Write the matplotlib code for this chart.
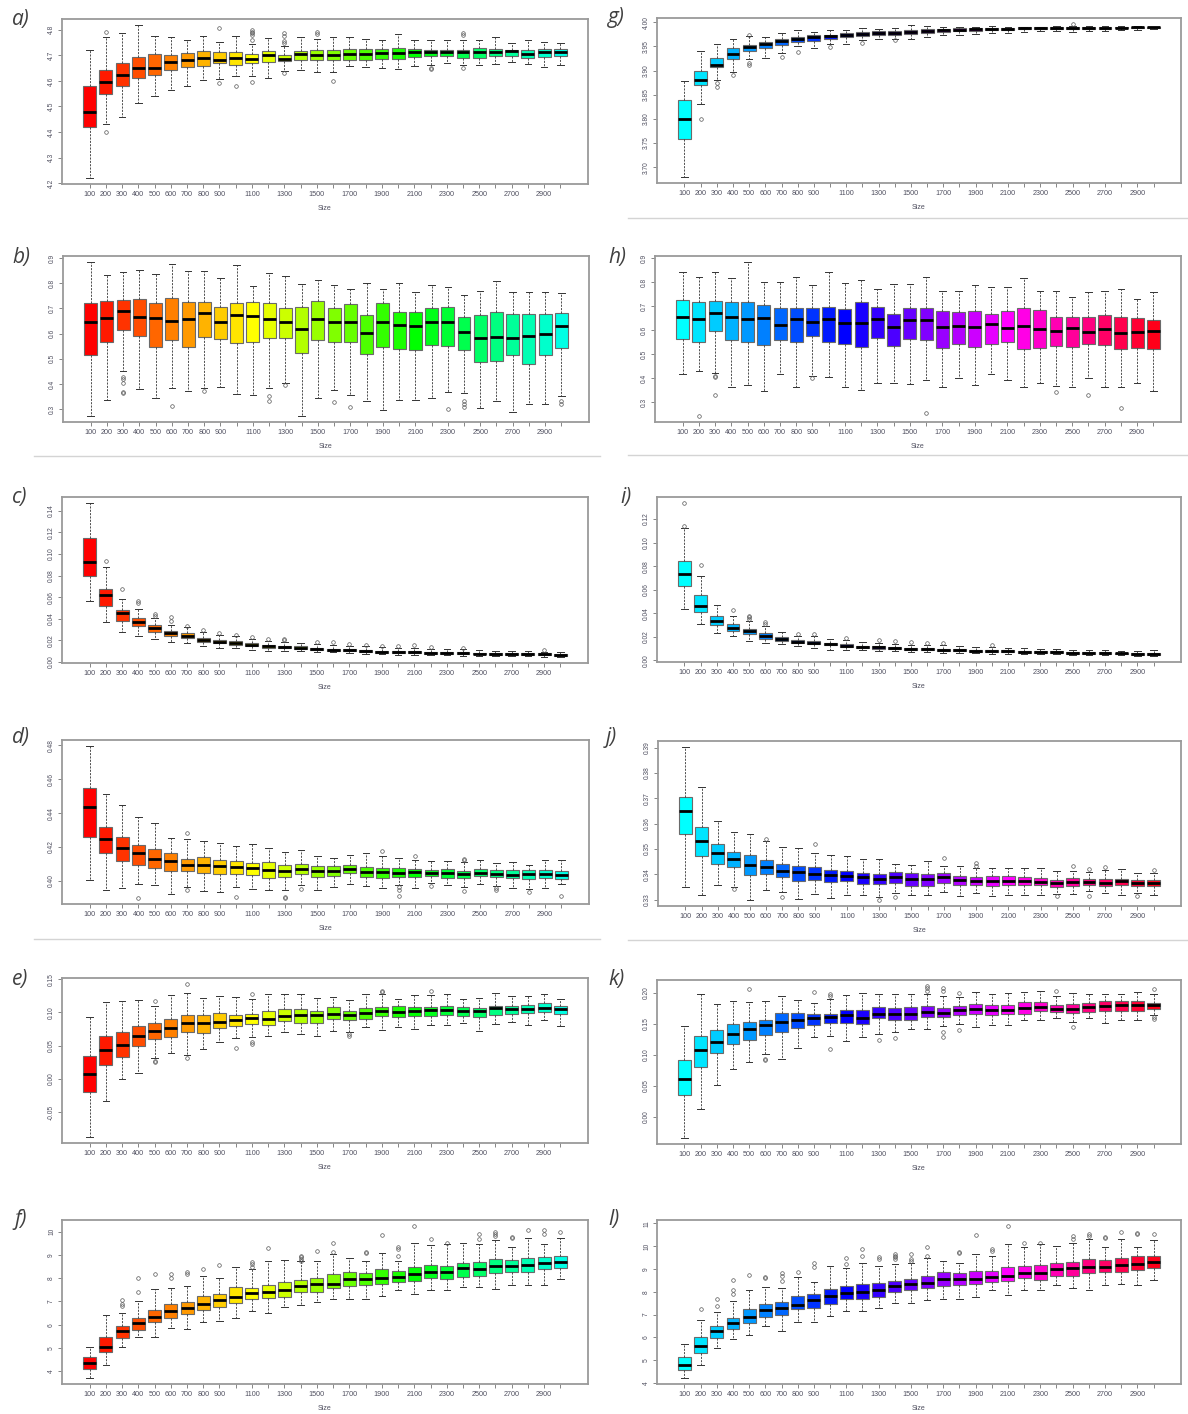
import colorsys
import matplotlib
matplotlib.use("Agg")
import matplotlib.pyplot as plt
from matplotlib.lines import Line2D

plt.rcParams['font.family'] = ['Liberation Sans', 'DejaVu Sans']

# x axis: sample size, R skips labels that would overlap
sizes = [100, 200, 300, 400, 500, 600, 700, 800, 900, 1000,
         1100, 1200, 1300, 1400, 1500, 1600, 1700, 1800, 1900, 2000,
         2100, 2200, 2300, 2400, 2500, 2600, 2700, 2800, 2900, 3000]
size_labels = ['100', '200', '300', '400', '500', '600', '700', '800', '900', '',
               '1100', '', '1300', '', '1500', '', '1700', '', '1900', '',
               '2100', '', '2300', '', '2500', '', '2700', '', '2900', '']

# ---- a)
a_hi = [4.722, 4.770, 4.787, 4.818, 4.774, 4.770, 4.761, 4.774, 4.751, 4.777, 4.745, 4.768, 4.735, 4.771, 4.764,
        4.770, 4.770, 4.764, 4.759, 4.782, 4.760, 4.759, 4.759, 4.759, 4.759, 4.770, 4.748, 4.761, 4.753, 4.748]
a_q3 = [4.582, 4.641, 4.670, 4.695, 4.707, 4.703, 4.708, 4.716, 4.712, 4.713, 4.705, 4.718, 4.703, 4.718, 4.722,
        4.722, 4.725, 4.726, 4.726, 4.729, 4.725, 4.720, 4.722, 4.720, 4.729, 4.726, 4.720, 4.722, 4.726, 4.726]
a_med = [4.479, 4.597, 4.625, 4.651, 4.652, 4.673, 4.683, 4.690, 4.682, 4.689, 4.687, 4.700, 4.687, 4.705, 4.703,
         4.702, 4.707, 4.707, 4.708, 4.708, 4.713, 4.711, 4.712, 4.711, 4.712, 4.712, 4.715, 4.704, 4.713, 4.713]
a_q1 = [4.420, 4.547, 4.582, 4.612, 4.625, 4.642, 4.655, 4.658, 4.668, 4.663, 4.670, 4.674, 4.677, 4.681, 4.681,
        4.681, 4.683, 4.682, 4.686, 4.686, 4.694, 4.696, 4.696, 4.691, 4.690, 4.696, 4.696, 4.689, 4.694, 4.696]
a_lo = [4.221, 4.431, 4.460, 4.514, 4.541, 4.563, 4.582, 4.602, 4.606, 4.619, 4.619, 4.612, 4.638, 4.642, 4.636,
        4.634, 4.658, 4.654, 4.651, 4.648, 4.659, 4.661, 4.668, 4.661, 4.661, 4.667, 4.673, 4.667, 4.654, 4.661]
a_out = {2: [4.790, 4.400], 9: [4.806, 4.593], 10: [4.582], 11: [4.800, 4.793, 4.787, 4.780, 4.760, 4.597],
         13: [4.787, 4.774, 4.755, 4.748, 4.632], 15: [4.791, 4.782], 16: [4.600], 22: [4.650, 4.646],
         24: [4.787, 4.780, 4.650]}
a_ticks = [4.2, 4.3, 4.4, 4.5, 4.6, 4.7, 4.8]
a_tick_labels = ['4.2', '4.3', '4.4', '4.5', '4.6', '4.7', '4.8']

# ---- b)
b_hi = [0.884, 0.832, 0.844, 0.851, 0.837, 0.876, 0.847, 0.847, 0.820, 0.871, 0.791, 0.840, 0.828, 0.799, 0.812,
        0.792, 0.779, 0.800, 0.779, 0.803, 0.764, 0.792, 0.784, 0.753, 0.768, 0.809, 0.764, 0.764, 0.764, 0.761]
b_q3 = [0.723, 0.729, 0.733, 0.736, 0.720, 0.741, 0.727, 0.724, 0.707, 0.723, 0.724, 0.723, 0.701, 0.705, 0.729,
        0.703, 0.716, 0.673, 0.723, 0.687, 0.684, 0.700, 0.707, 0.667, 0.672, 0.687, 0.679, 0.676, 0.676, 0.680]
b_med = [0.645, 0.663, 0.688, 0.665, 0.660, 0.649, 0.659, 0.683, 0.645, 0.673, 0.668, 0.657, 0.645, 0.617, 0.657,
         0.647, 0.645, 0.603, 0.645, 0.636, 0.629, 0.645, 0.648, 0.607, 0.581, 0.587, 0.581, 0.591, 0.599, 0.631]
b_q1 = [0.516, 0.567, 0.613, 0.592, 0.547, 0.576, 0.547, 0.587, 0.577, 0.564, 0.567, 0.582, 0.583, 0.521, 0.576,
        0.567, 0.567, 0.520, 0.547, 0.540, 0.533, 0.553, 0.552, 0.536, 0.488, 0.491, 0.516, 0.481, 0.515, 0.544]
b_lo = [0.273, 0.337, 0.453, 0.380, 0.345, 0.384, 0.372, 0.383, 0.387, 0.360, 0.356, 0.383, 0.403, 0.273, 0.344,
        0.376, 0.357, 0.333, 0.296, 0.335, 0.335, 0.345, 0.369, 0.365, 0.304, 0.331, 0.288, 0.321, 0.321, 0.353]
b_out = {3: [0.429, 0.419, 0.404, 0.369, 0.363], 6: [0.313], 8: [0.372], 12: [0.353, 0.332], 13: [0.397],
         16: [0.329], 17: [0.307], 23: [0.300], 24: [0.333, 0.320, 0.309], 30: [0.333, 0.320]}
b_ticks = [0.3, 0.4, 0.5, 0.6, 0.7, 0.8, 0.9]
b_tick_labels = ['0.3', '0.4', '0.5', '0.6', '0.7', '0.8', '0.9']

# ---- c)
c_hi = [0.147, 0.0878, 0.0583, 0.0490, 0.0406, 0.0344, 0.0319, 0.0273, 0.0251, 0.0236, 0.0211, 0.0195, 0.0186, 0.0171, 0.0164,
        0.0155, 0.0149, 0.0143, 0.0136, 0.0130, 0.0130, 0.0124, 0.0118, 0.0118, 0.0109, 0.0105, 0.0105, 0.0102, 0.0096, 0.0090]
c_q3 = [0.115, 0.0676, 0.0484, 0.0406, 0.0344, 0.0288, 0.0264, 0.0220, 0.0205, 0.0192, 0.0171, 0.0158, 0.0152, 0.0143, 0.0133,
        0.0124, 0.0121, 0.0112, 0.0105, 0.0102, 0.0099, 0.0096, 0.0096, 0.0093, 0.0087, 0.0087, 0.0084, 0.0084, 0.0081, 0.0078]
c_med = [0.0924, 0.0623, 0.0450, 0.0366, 0.0316, 0.0264, 0.0242, 0.0205, 0.0186, 0.0174, 0.0158, 0.0143, 0.0140, 0.0130, 0.0121,
         0.0115, 0.0109, 0.0102, 0.0096, 0.0093, 0.0090, 0.0087, 0.0087, 0.0084, 0.0078, 0.0078, 0.0074, 0.0074, 0.0071, 0.0068]
c_q1 = [0.0791, 0.0521, 0.0381, 0.0329, 0.0279, 0.0236, 0.0220, 0.0186, 0.0171, 0.0158, 0.0143, 0.0130, 0.0127, 0.0118, 0.0112,
        0.0105, 0.0099, 0.0093, 0.0087, 0.0084, 0.0081, 0.0078, 0.0078, 0.0074, 0.0071, 0.0068, 0.0065, 0.0065, 0.0062, 0.0059]
c_lo = [0.0567, 0.0372, 0.0279, 0.0236, 0.0208, 0.0189, 0.0171, 0.0149, 0.0133, 0.0127, 0.0112, 0.0102, 0.0102, 0.0102, 0.0090,
        0.0090, 0.0081, 0.0078, 0.0071, 0.0068, 0.0065, 0.0062, 0.0062, 0.0059, 0.0059, 0.0056, 0.0056, 0.0053, 0.0050, 0.0047]
c_out = {2: [0.0930], 3: [0.0676], 4: [0.0561, 0.0543], 5: [0.0443, 0.0428], 6: [0.0412, 0.0380], 7: [0.0329],
         8: [0.0295], 9: [0.0264], 10: [0.0248], 11: [0.0233], 12: [0.0211], 13: [0.0211, 0.0202], 15: [0.0189],
         16: [0.0180], 17: [0.0164], 18: [0.0158], 19: [0.0152], 20: [0.0152], 21: [0.0161], 22: [0.0140],
         24: [0.0133], 29: [0.0112]}
c_ticks = [0.0, 0.02, 0.04, 0.06, 0.08, 0.10, 0.12, 0.14]
c_tick_labels = ['0.00', '0.02', '0.04', '0.06', '0.08', '0.10', '0.12', '0.14']

# ---- d)
d_hi = [0.4796, 0.4512, 0.4445, 0.4375, 0.4341, 0.4251, 0.4245, 0.4237, 0.4222, 0.4204, 0.4214, 0.4192, 0.4171, 0.4180, 0.4147,
        0.4137, 0.4153, 0.4163, 0.4143, 0.4137, 0.4124, 0.4118, 0.4114, 0.4110, 0.4122, 0.4104, 0.4108, 0.4092, 0.4125, 0.4125]
d_q3 = [0.4549, 0.4316, 0.4261, 0.4210, 0.4186, 0.4165, 0.4131, 0.4139, 0.4120, 0.4114, 0.4104, 0.4108, 0.4092, 0.4096, 0.4084,
        0.4086, 0.4092, 0.4080, 0.4073, 0.4073, 0.4069, 0.4065, 0.4069, 0.4057, 0.4069, 0.4065, 0.4061, 0.4065, 0.4065, 0.4059]
d_med = [0.4433, 0.4245, 0.4192, 0.4161, 0.4127, 0.4118, 0.4094, 0.4094, 0.4084, 0.4080, 0.4073, 0.4063, 0.4055, 0.4067, 0.4055,
         0.4055, 0.4071, 0.4051, 0.4049, 0.4045, 0.4049, 0.4043, 0.4045, 0.4039, 0.4043, 0.4041, 0.4033, 0.4041, 0.4039, 0.4035]
d_q1 = [0.4257, 0.4163, 0.4118, 0.4094, 0.4073, 0.4055, 0.4055, 0.4047, 0.4041, 0.4039, 0.4035, 0.4016, 0.4022, 0.4037, 0.4024,
        0.4029, 0.4045, 0.4024, 0.4016, 0.4024, 0.4024, 0.4027, 0.4018, 0.4016, 0.4025, 0.4022, 0.4016, 0.4010, 0.4014, 0.4010]
d_lo = [0.4004, 0.3943, 0.3955, 0.3978, 0.3973, 0.3924, 0.3961, 0.3939, 0.3931, 0.3963, 0.3951, 0.3947, 0.3947, 0.3973, 0.3947,
        0.3965, 0.3978, 0.3971, 0.3957, 0.3973, 0.3957, 0.3986, 0.3973, 0.3961, 0.3978, 0.3971, 0.3957, 0.3951, 0.3957, 0.3982]
d_out = {4: [0.3898], 7: [0.4284, 0.3947], 10: [0.3902], 13: [0.3904, 0.3898], 14: [0.3953], 19: [0.4176],
         20: [0.3961, 0.3947, 0.3908], 21: [0.4143], 22: [0.3967], 24: [0.4129, 0.4124, 0.3937],
         26: [0.3957, 0.3947], 28: [0.3933], 30: [0.3908]}
d_ticks = [0.40, 0.42, 0.44, 0.46, 0.48]
d_tick_labels = ['0.40', '0.42', '0.44', '0.46', '0.48']

# ---- e)
e_hi = [0.0925, 0.116, 0.1175, 0.119, 0.109, 0.1265, 0.129, 0.122, 0.125, 0.1225, 0.1205, 0.1275, 0.1275, 0.127, 0.121,
        0.1225, 0.119, 0.128, 0.1275, 0.1205, 0.1265, 0.1265, 0.128, 0.1205, 0.1215, 0.1285, 0.125, 0.125, 0.1275, 0.1205]
e_q3 = [0.035, 0.064, 0.071, 0.080, 0.0835, 0.090, 0.096, 0.096, 0.0985, 0.0965, 0.0975, 0.1015, 0.105, 0.1045, 0.1025,
        0.1075, 0.1015, 0.106, 0.1085, 0.109, 0.1075, 0.1085, 0.110, 0.1075, 0.1065, 0.110, 0.110, 0.1115, 0.1135, 0.110]
e_med = [0.0065, 0.043, 0.0505, 0.064, 0.0725, 0.076, 0.084, 0.0835, 0.086, 0.0885, 0.091, 0.090, 0.094, 0.0965, 0.096,
         0.098, 0.096, 0.0985, 0.1015, 0.100, 0.1015, 0.103, 0.104, 0.1025, 0.1025, 0.106, 0.105, 0.105, 0.106, 0.105]
e_q1 = [-0.020, 0.021, 0.0325, 0.050, 0.0595, 0.0625, 0.071, 0.069, 0.076, 0.080, 0.0825, 0.081, 0.0875, 0.0835, 0.084,
        0.090, 0.089, 0.090, 0.094, 0.0925, 0.094, 0.095, 0.096, 0.094, 0.0925, 0.0965, 0.0975, 0.099, 0.100, 0.0975]
e_lo = [-0.0875, -0.034, 0.0, 0.009, 0.031, 0.0385, 0.0365, 0.045, 0.056, 0.061, 0.0625, 0.064, 0.070, 0.067, 0.065,
        0.0715, 0.070, 0.0785, 0.074, 0.0785, 0.0755, 0.081, 0.081, 0.0835, 0.0725, 0.0825, 0.085, 0.081, 0.0885, 0.080]
e_out = {5: [0.1175, 0.0275, 0.025], 7: [0.1425, 0.0315], 10: [0.046], 11: [0.1275, 0.055, 0.0525],
         17: [0.0675, 0.064], 19: [0.1315, 0.130], 22: [0.1325]}
e_ticks = [-0.05, 0.0, 0.05, 0.10, 0.15]
e_tick_labels = ['-0.05', '0.00', '0.05', '0.10', '0.15']

# ---- f)
f_hi = [5.064, 6.440, 6.511, 7.021, 7.518, 7.574, 7.645, 8.113, 8.014, 8.468, 8.397, 8.723, 8.794, 8.723, 8.752,
        9.035, 8.851, 8.752, 9.078, 8.752, 9.504, 9.433, 9.461, 9.504, 9.461, 9.645, 9.362, 9.716, 9.461, 9.716]
f_q3 = [4.596, 5.489, 5.943, 6.298, 6.652, 6.908, 6.979, 7.220, 7.305, 7.617, 7.589, 7.730, 7.830, 7.929, 8.000,
        8.184, 8.284, 8.213, 8.383, 8.298, 8.496, 8.582, 8.539, 8.652, 8.681, 8.823, 8.794, 8.865, 8.922, 8.965]
f_med = [4.340, 5.064, 5.745, 6.057, 6.326, 6.596, 6.738, 6.908, 7.050, 7.191, 7.376, 7.404, 7.504, 7.645, 7.759,
         7.759, 7.972, 7.972, 8.014, 8.071, 8.184, 8.284, 8.255, 8.440, 8.397, 8.511, 8.511, 8.582, 8.638, 8.709]
f_q1 = [4.099, 4.823, 5.418, 5.773, 6.099, 6.312, 6.482, 6.652, 6.766, 6.936, 7.121, 7.149, 7.191, 7.404, 7.404,
        7.589, 7.674, 7.716, 7.759, 7.858, 7.872, 8.014, 7.972, 8.071, 8.099, 8.227, 8.284, 8.284, 8.397, 8.440]
f_lo = [3.716, 4.255, 5.035, 5.475, 5.489, 5.858, 5.801, 6.128, 6.142, 6.312, 6.596, 6.525, 6.766, 6.865, 6.979,
        7.106, 7.106, 7.106, 7.234, 7.475, 7.333, 7.475, 7.475, 7.617, 7.617, 7.518, 7.716, 7.716, 7.716, 7.972]
f_out = {3: [7.050, 6.908, 6.794], 4: [8.000, 7.390], 5: [8.170], 6: [8.184, 8.014], 7: [8.255, 8.184],
         8: [8.397], 9: [8.567], 11: [8.681, 8.610, 8.468], 12: [9.319], 14: [8.965, 8.894, 8.823, 8.752],
         15: [9.149], 16: [9.504, 9.106], 18: [9.106, 9.064], 19: [9.858], 20: [9.348, 9.248, 8.965],
         21: [10.241], 22: [9.674], 23: [9.532], 25: [9.915, 9.702], 26: [10.000, 9.915, 9.816],
         27: [9.787, 9.745], 28: [10.071], 29: [10.071, 9.915], 30: [9.986]}
f_ticks = [4, 5, 6, 7, 8, 9, 10]
f_tick_labels = ['4', '5', '6', '7', '8', '9', '10']

# ---- g)
g_hi = [3.879, 3.940, 3.954, 3.966, 3.972, 3.970, 3.978, 3.983, 3.980, 3.983, 3.983, 3.987, 3.986, 3.988, 3.994,
        3.992, 3.990, 3.990, 3.990, 3.993, 3.990, 3.990, 3.990, 3.992, 3.992, 3.992, 3.992, 3.992, 3.992, 3.991]
g_q3 = [3.840, 3.900, 3.926, 3.946, 3.952, 3.959, 3.966, 3.970, 3.973, 3.974, 3.978, 3.980, 3.981, 3.981, 3.983,
        3.985, 3.986, 3.987, 3.988, 3.988, 3.988, 3.989, 3.989, 3.989, 3.989, 3.990, 3.990, 3.990, 3.990, 3.990]
g_med = [3.800, 3.880, 3.912, 3.935, 3.948, 3.955, 3.961, 3.966, 3.969, 3.971, 3.974, 3.976, 3.978, 3.978, 3.980,
         3.981, 3.983, 3.984, 3.985, 3.986, 3.986, 3.987, 3.987, 3.988, 3.987, 3.988, 3.988, 3.988, 3.989, 3.989]
g_q1 = [3.759, 3.870, 3.907, 3.924, 3.940, 3.946, 3.952, 3.959, 3.962, 3.966, 3.969, 3.971, 3.974, 3.974, 3.976,
        3.978, 3.979, 3.981, 3.981, 3.983, 3.983, 3.985, 3.986, 3.986, 3.985, 3.986, 3.986, 3.987, 3.987, 3.988]
g_lo = [3.680, 3.830, 3.880, 3.897, 3.924, 3.926, 3.937, 3.950, 3.946, 3.955, 3.955, 3.963, 3.966, 3.966, 3.966,
        3.969, 3.974, 3.974, 3.975, 3.977, 3.978, 3.980, 3.981, 3.981, 3.979, 3.981, 3.981, 3.983, 3.984, 3.986]
g_out = {2: [3.800], 3: [3.874, 3.866], 4: [3.890], 5: [3.974, 3.916, 3.912], 7: [3.928], 8: [3.938],
         10: [3.948], 12: [3.957], 14: [3.963], 25: [3.996]}
g_ticks = [3.70, 3.75, 3.80, 3.85, 3.90, 3.95, 4.00]
g_tick_labels = ['3.70', '3.75', '3.80', '3.85', '3.90', '3.95', '4.00']

# ---- h)
h_hi = [0.844, 0.820, 0.840, 0.816, 0.883, 0.802, 0.802, 0.823, 0.786, 0.844, 0.797, 0.809, 0.772, 0.791, 0.791,
        0.820, 0.761, 0.761, 0.786, 0.781, 0.781, 0.816, 0.761, 0.761, 0.737, 0.759, 0.763, 0.770, 0.728, 0.759]
h_q3 = [0.726, 0.719, 0.721, 0.717, 0.717, 0.705, 0.691, 0.691, 0.691, 0.698, 0.688, 0.717, 0.698, 0.667, 0.694,
        0.691, 0.678, 0.674, 0.680, 0.668, 0.680, 0.692, 0.682, 0.656, 0.657, 0.657, 0.663, 0.657, 0.649, 0.641]
h_med = [0.653, 0.646, 0.670, 0.653, 0.646, 0.652, 0.620, 0.646, 0.636, 0.646, 0.628, 0.632, 0.645, 0.614, 0.641,
         0.641, 0.614, 0.618, 0.614, 0.625, 0.611, 0.618, 0.607, 0.597, 0.610, 0.593, 0.607, 0.589, 0.593, 0.597]
h_q1 = [0.562, 0.551, 0.597, 0.561, 0.551, 0.540, 0.558, 0.549, 0.576, 0.549, 0.544, 0.529, 0.567, 0.536, 0.562,
        0.561, 0.526, 0.544, 0.532, 0.544, 0.551, 0.521, 0.525, 0.533, 0.530, 0.544, 0.540, 0.521, 0.528, 0.521]
h_lo = [0.419, 0.430, 0.423, 0.366, 0.374, 0.349, 0.416, 0.366, 0.409, 0.405, 0.366, 0.352, 0.381, 0.381, 0.377,
        0.394, 0.366, 0.401, 0.373, 0.419, 0.394, 0.363, 0.381, 0.370, 0.362, 0.402, 0.366, 0.366, 0.381, 0.349]
h_out = {2: [0.244], 3: [0.409, 0.405, 0.332], 9: [0.402], 16: [0.254], 24: [0.345], 26: [0.331], 28: [0.275]}
h_ticks = [0.3, 0.4, 0.5, 0.6, 0.7, 0.8, 0.9]
h_tick_labels = ['0.3', '0.4', '0.5', '0.6', '0.7', '0.8', '0.9']

# ---- i)
i_hi = [0.1125, 0.0713, 0.0473, 0.0379, 0.0331, 0.0289, 0.0243, 0.0209, 0.0204, 0.0181, 0.0175, 0.0153, 0.0147, 0.0139, 0.0133,
        0.0127, 0.0127, 0.0119, 0.0113, 0.0113, 0.0105, 0.0105, 0.0099, 0.0099, 0.0088, 0.0091, 0.0085, 0.0082, 0.0079, 0.0085]
i_q3 = [0.0841, 0.0558, 0.0374, 0.0309, 0.0266, 0.0229, 0.0198, 0.0173, 0.0164, 0.0150, 0.0136, 0.0125, 0.0119, 0.0113, 0.0105,
        0.0102, 0.0099, 0.0093, 0.0091, 0.0085, 0.0085, 0.0079, 0.0076, 0.0076, 0.0071, 0.0068, 0.0068, 0.0065, 0.0062, 0.0062]
i_med = [0.0733, 0.0461, 0.0337, 0.0275, 0.0246, 0.0207, 0.0184, 0.0159, 0.0147, 0.0136, 0.0125, 0.0113, 0.0110, 0.0105, 0.0096,
         0.0093, 0.0091, 0.0085, 0.0082, 0.0076, 0.0076, 0.0074, 0.0071, 0.0068, 0.0065, 0.0062, 0.0059, 0.0059, 0.0057, 0.0054]
i_q1 = [0.0634, 0.0408, 0.0300, 0.0249, 0.0224, 0.0184, 0.0167, 0.0147, 0.0136, 0.0127, 0.0113, 0.0105, 0.0099, 0.0093, 0.0088,
        0.0085, 0.0079, 0.0076, 0.0074, 0.0068, 0.0068, 0.0065, 0.0062, 0.0059, 0.0057, 0.0054, 0.0054, 0.0051, 0.0048, 0.0045]
i_lo = [0.0436, 0.0311, 0.0232, 0.0204, 0.0161, 0.0147, 0.0139, 0.0125, 0.0105, 0.0091, 0.0088, 0.0085, 0.0079, 0.0076, 0.0071,
        0.0068, 0.0065, 0.0062, 0.0059, 0.0057, 0.0057, 0.0054, 0.0051, 0.0051, 0.0045, 0.0045, 0.0042, 0.0042, 0.0040, 0.0037]
i_out = {1: [0.1336, 0.1143], 2: [0.0812], 4: [0.0425], 5: [0.0379, 0.0365, 0.0351], 6: [0.0323, 0.0309],
         8: [0.0221], 9: [0.0226], 11: [0.0187], 13: [0.0175], 14: [0.0164], 15: [0.0153], 16: [0.0150],
         17: [0.0148], 20: [0.0130]}
i_ticks = [0.0, 0.02, 0.04, 0.06, 0.08, 0.10, 0.12]
i_tick_labels = ['0.00', '0.02', '0.04', '0.06', '0.08', '0.10', '0.12']

# ---- j)
j_hi = [0.3902, 0.3745, 0.3611, 0.3566, 0.3559, 0.3530, 0.3509, 0.3505, 0.3485, 0.3477, 0.3472, 0.3460, 0.3460, 0.3440, 0.3438,
        0.3452, 0.3433, 0.3433, 0.3426, 0.3423, 0.3423, 0.3423, 0.3423, 0.3412, 0.3412, 0.3408, 0.3417, 0.3421, 0.3405, 0.3405]
j_q3 = [0.3706, 0.3587, 0.3520, 0.3489, 0.3477, 0.3455, 0.3440, 0.3433, 0.3427, 0.3418, 0.3414, 0.3404, 0.3401, 0.3408, 0.3404,
        0.3400, 0.3404, 0.3392, 0.3388, 0.3392, 0.3392, 0.3391, 0.3385, 0.3379, 0.3385, 0.3381, 0.3381, 0.3381, 0.3377, 0.3379]
j_med = [0.3649, 0.3530, 0.3484, 0.3460, 0.3438, 0.3429, 0.3413, 0.3408, 0.3402, 0.3397, 0.3394, 0.3389, 0.3381, 0.3389, 0.3381,
         0.3381, 0.3388, 0.3377, 0.3373, 0.3373, 0.3374, 0.3375, 0.3371, 0.3366, 0.3370, 0.3370, 0.3367, 0.3372, 0.3367, 0.3367]
j_q1 = [0.3560, 0.3472, 0.3442, 0.3430, 0.3397, 0.3400, 0.3389, 0.3373, 0.3377, 0.3371, 0.3373, 0.3363, 0.3360, 0.3367, 0.3355,
        0.3354, 0.3364, 0.3359, 0.3359, 0.3355, 0.3356, 0.3359, 0.3356, 0.3350, 0.3355, 0.3358, 0.3354, 0.3356, 0.3355, 0.3354]
j_lo = [0.3349, 0.3318, 0.3356, 0.3349, 0.3299, 0.3337, 0.3331, 0.3304, 0.3321, 0.3305, 0.3317, 0.3317, 0.3309, 0.3325, 0.3318,
        0.3318, 0.3329, 0.3313, 0.3325, 0.3316, 0.3318, 0.3318, 0.3318, 0.3322, 0.3322, 0.3333, 0.3325, 0.3318, 0.3325, 0.3318]
j_out = {4: [0.3342], 6: [0.3539], 7: [0.3312], 9: [0.3519], 13: [0.3300], 14: [0.3309], 17: [0.3463],
         19: [0.3444, 0.3431], 24: [0.3313], 25: [0.3431], 26: [0.3421, 0.3313], 27: [0.3427], 29: [0.3313],
         30: [0.3417]}
j_ticks = [0.33, 0.34, 0.35, 0.36, 0.37, 0.38, 0.39]
j_tick_labels = ['0.33', '0.34', '0.35', '0.36', '0.37', '0.38', '0.39']

# ---- k)
k_hi = [0.1463, 0.1979, 0.1816, 0.1858, 0.1842, 0.1858, 0.1953, 0.1884, 0.1832, 0.1900, 0.1963, 0.2000, 0.1974, 0.1979, 0.1974,
        0.1974, 0.1947, 0.1937, 0.2005, 0.1979, 0.2000, 0.2005, 0.2026, 0.1947, 0.1989, 0.1979, 0.1979, 0.1974, 0.2005, 0.1979]
k_q3 = [0.0911, 0.1305, 0.1395, 0.1500, 0.1532, 0.1558, 0.1674, 0.1674, 0.1658, 0.1658, 0.1726, 0.1716, 0.1763, 0.1753, 0.1763,
        0.1779, 0.1753, 0.1789, 0.1816, 0.1805, 0.1795, 0.1842, 0.1842, 0.1805, 0.1816, 0.1832, 0.1858, 0.1858, 0.1858, 0.1832]
k_med = [0.0611, 0.1084, 0.1200, 0.1332, 0.1416, 0.1474, 0.1532, 0.1553, 0.1584, 0.1605, 0.1632, 0.1584, 0.1663, 0.1658, 0.1663,
         0.1689, 0.1674, 0.1716, 0.1742, 0.1726, 0.1726, 0.1753, 0.1768, 0.1742, 0.1742, 0.1763, 0.1789, 0.1795, 0.1795, 0.1795]
k_q1 = [0.0358, 0.0805, 0.1026, 0.1174, 0.1237, 0.1311, 0.1374, 0.1426, 0.1474, 0.1516, 0.1516, 0.1500, 0.1584, 0.1558, 0.1553,
        0.1610, 0.1605, 0.1647, 0.1658, 0.1637, 0.1658, 0.1663, 0.1700, 0.1684, 0.1674, 0.1689, 0.1700, 0.1700, 0.1711, 0.1737]
k_lo = [-0.0337, 0.0121, 0.0516, 0.0768, 0.0884, 0.1016, 0.0937, 0.1111, 0.1279, 0.1305, 0.1226, 0.1279, 0.1342, 0.1368, 0.1411,
        0.1421, 0.1463, 0.1500, 0.1453, 0.1474, 0.1474, 0.1553, 0.1553, 0.1584, 0.1526, 0.1584, 0.1516, 0.1558, 0.1558, 0.1637]
k_out = {5: [0.2053], 6: [0.0937, 0.0921], 9: [0.2016], 10: [0.1974, 0.1947, 0.1095], 13: [0.1237], 14: [0.1263],
         16: [0.2105, 0.2068, 0.2032], 17: [0.2068, 0.2026, 0.1368, 0.1279], 18: [0.2000, 0.1400], 24: [0.2026],
         25: [0.1447], 30: [0.2058, 0.1605, 0.1568]}
k_ticks = [0.0, 0.05, 0.10, 0.15, 0.20]
k_tick_labels = ['0.00', '0.05', '0.10', '0.15', '0.20']

# ---- l)
l_hi = [5.696, 6.754, 7.116, 7.580, 8.058, 8.203, 8.174, 8.667, 8.449, 9.116, 9.043, 9.261, 9.116, 9.200, 9.261,
        9.464, 9.362, 9.261, 9.652, 9.580, 10.116, 9.971, 10.087, 10.014, 10.130, 10.304, 9.986, 10.304, 9.986, 10.261]
l_q3 = [5.116, 6.029, 6.493, 6.855, 7.232, 7.478, 7.551, 7.797, 7.884, 8.130, 8.232, 8.348, 8.391, 8.493, 8.565,
        8.681, 8.855, 8.826, 8.928, 8.928, 9.101, 9.145, 9.174, 9.246, 9.290, 9.435, 9.391, 9.464, 9.551, 9.551]
l_med = [4.797, 5.623, 6.275, 6.609, 6.870, 7.217, 7.304, 7.435, 7.623, 7.797, 7.942, 7.971, 8.087, 8.232, 8.348,
         8.391, 8.565, 8.565, 8.565, 8.667, 8.710, 8.826, 8.812, 9.000, 9.029, 9.101, 9.101, 9.188, 9.217, 9.290]
l_q1 = [4.580, 5.304, 5.957, 6.348, 6.609, 6.899, 7.000, 7.232, 7.290, 7.478, 7.667, 7.696, 7.768, 7.986, 8.058,
        8.174, 8.232, 8.304, 8.348, 8.420, 8.464, 8.594, 8.522, 8.710, 8.681, 8.812, 8.884, 8.884, 8.971, 9.043]
l_lo = [4.217, 4.768, 5.522, 5.913, 6.116, 6.478, 6.275, 6.652, 6.681, 6.928, 7.145, 7.159, 7.304, 7.522, 7.522,
        7.623, 7.696, 7.696, 7.768, 8.058, 7.841, 8.087, 8.087, 8.275, 8.174, 8.087, 8.275, 8.348, 8.304, 8.522]
l_out = {2: [7.232], 3: [7.667, 7.362], 4: [8.522, 8.058, 7.913], 5: [8.739], 6: [8.667, 8.609],
         7: [8.826, 8.710, 8.464], 8: [8.884], 9: [9.261, 9.072], 11: [9.464, 9.217], 12: [9.870, 9.580],
         13: [9.507, 9.435], 14: [9.652, 9.580, 9.507, 9.435], 15: [9.652, 9.435, 9.362], 16: [9.971, 9.551],
         18: [9.725, 9.681], 19: [10.478], 20: [9.870, 9.797], 21: [10.884], 22: [10.130], 23: [10.130],
         25: [10.449, 10.304], 26: [10.551, 10.449], 27: [10.420, 10.377], 28: [10.638], 29: [10.565, 10.522],
         30: [10.551]}
l_ticks = [4, 5, 6, 7, 8, 9, 10, 11]
l_tick_labels = ['4', '5', '6', '7', '8', '9', '10', '11']


def rainbow(start):
    # R rainbow(60): left column uses the first half, right column the second
    return [colorsys.hsv_to_rgb(start + k / 60.0, 1.0, 1.0) for k in range(30)]


W, H = 1188, 1414
fig = plt.figure(figsize=(W / 100, H / 100), dpi=100)

# label, data, frame in pixels (left, top, right, bottom), label position
panels = [
    ('a)', a_lo, a_q1, a_med, a_q3, a_hi, a_out, a_ticks, a_tick_labels, 0.0, (62, 19, 588, 184), (12, 20)),
    ('b)', b_lo, b_q1, b_med, b_q3, b_hi, b_out, b_ticks, b_tick_labels, 0.0, (63, 256, 589, 422), (12, 258)),
    ('c)', c_lo, c_q1, c_med, c_q3, c_hi, c_out, c_ticks, c_tick_labels, 0.0, (62, 497, 588, 663), (12, 497)),
    ('d)', d_lo, d_q1, d_med, d_q3, d_hi, d_out, d_ticks, d_tick_labels, 0.0, (62, 740, 589, 904), (12, 738)),
    ('e)', e_lo, e_q1, e_med, e_q3, e_hi, e_out, e_ticks, e_tick_labels, 0.0, (62, 978, 588, 1143), (12, 980)),
    ('f)', f_lo, f_q1, f_med, f_q3, f_hi, f_out, f_ticks, f_tick_labels, 0.0, (62, 1220, 588, 1384), (14, 1220)),
    ('g)', g_lo, g_q1, g_med, g_q3, g_hi, g_out, g_ticks, g_tick_labels, 0.5, (657, 18, 1181, 183), (608, 18)),
    ('h)', h_lo, h_q1, h_med, h_q3, h_hi, h_out, h_ticks, h_tick_labels, 0.5, (655, 256, 1181, 422), (608, 258)),
    ('i)', i_lo, i_q1, i_med, i_q3, i_hi, i_out, i_ticks, i_tick_labels, 0.5, (657, 497, 1181, 662), (620, 497)),
    ('j)', j_lo, j_q1, j_med, j_q3, j_hi, j_out, j_ticks, j_tick_labels, 0.5, (658, 741, 1181, 906), (606, 738)),
    ('k)', k_lo, k_q1, k_med, k_q3, k_hi, k_out, k_ticks, k_tick_labels, 0.5, (657, 980, 1181, 1144), (608, 980)),
    ('l)', l_lo, l_q1, l_med, l_q3, l_hi, l_out, l_ticks, l_tick_labels, 0.5, (657, 1220, 1181, 1384), (608, 1220)),
]

tick_col = '#505060'
for (lab, lo, q1, med, q3, hi, out, yt, ytl, hue0, frame, lpos) in panels:
    x0, y0, x1, y1 = frame
    ax = fig.add_axes([x0 / W, 1 - y1 / H, (x1 - x0) / W, (y1 - y0) / H])
    stats = []
    for k in range(30):
        stats.append({'whislo': lo[k], 'q1': q1[k], 'med': med[k], 'q3': q3[k],
                      'whishi': hi[k], 'fliers': out.get(k + 1, [])})
    bp = ax.bxp(stats, positions=range(1, 31), widths=0.8, capwidths=0.4,
                patch_artist=True, showfliers=True,
                boxprops=dict(edgecolor='#6a6a6a', linewidth=0.8),
                medianprops=dict(color='black', linewidth=2.0, solid_capstyle='butt'),
                whiskerprops=dict(color='#333333', linewidth=0.6, linestyle=(0, (2.5, 1.5))),
                capprops=dict(color='#333333', linewidth=0.7),
                flierprops=dict(marker='o', markersize=2.6, markerfacecolor='none',
                                markeredgecolor='#555555', markeredgewidth=0.5))
    for patch, col in zip(bp['boxes'], rainbow(hue0)):
        patch.set_facecolor(col)

    # R style axis limits: 4% padding around everything drawn
    allv = lo + hi + [v for vs in out.values() for v in vs]
    r = max(allv) - min(allv)
    ax.set_ylim(min(allv) - 0.04 * r, max(allv) + 0.04 * r)
    ax.set_xlim(-0.7, 31.7)

    ax.set_xticks(range(1, 31))
    ax.set_xticklabels(size_labels, fontsize=5.2, color=tick_col)
    ax.set_yticks(yt)
    ax.set_yticklabels(ytl, fontsize=4.8, color=tick_col, rotation=90, va='center')
    ax.tick_params(axis='both', length=2.8, width=0.5, color='#555555', pad=2.2)
    ax.set_xlabel('Size', fontsize=5, color=tick_col, labelpad=5)
    for sp in ax.spines.values():
        sp.set_color('#9a9a9a')
        sp.set_linewidth(1.3)

    fig.text(lpos[0] / W, 1 - lpos[1] / H, lab, fontsize=15, style='italic',
             color='#404040', va='center', ha='left', family=['Open Sans', 'DejaVu Sans'])

# faint separator lines left over from the composed figure
for (xa, xb, y) in [(628, 1188, 218), (34, 600, 456), (628, 1188, 455), (34, 600, 939), (628, 1188, 940)]:
    fig.add_artist(Line2D([xa / W, xb / W], [1 - y / H, 1 - y / H], transform=fig.transFigure,
                          color='#d4d4d4', linewidth=1.0))

fig.savefig('out.png', dpi=100, facecolor='white')
